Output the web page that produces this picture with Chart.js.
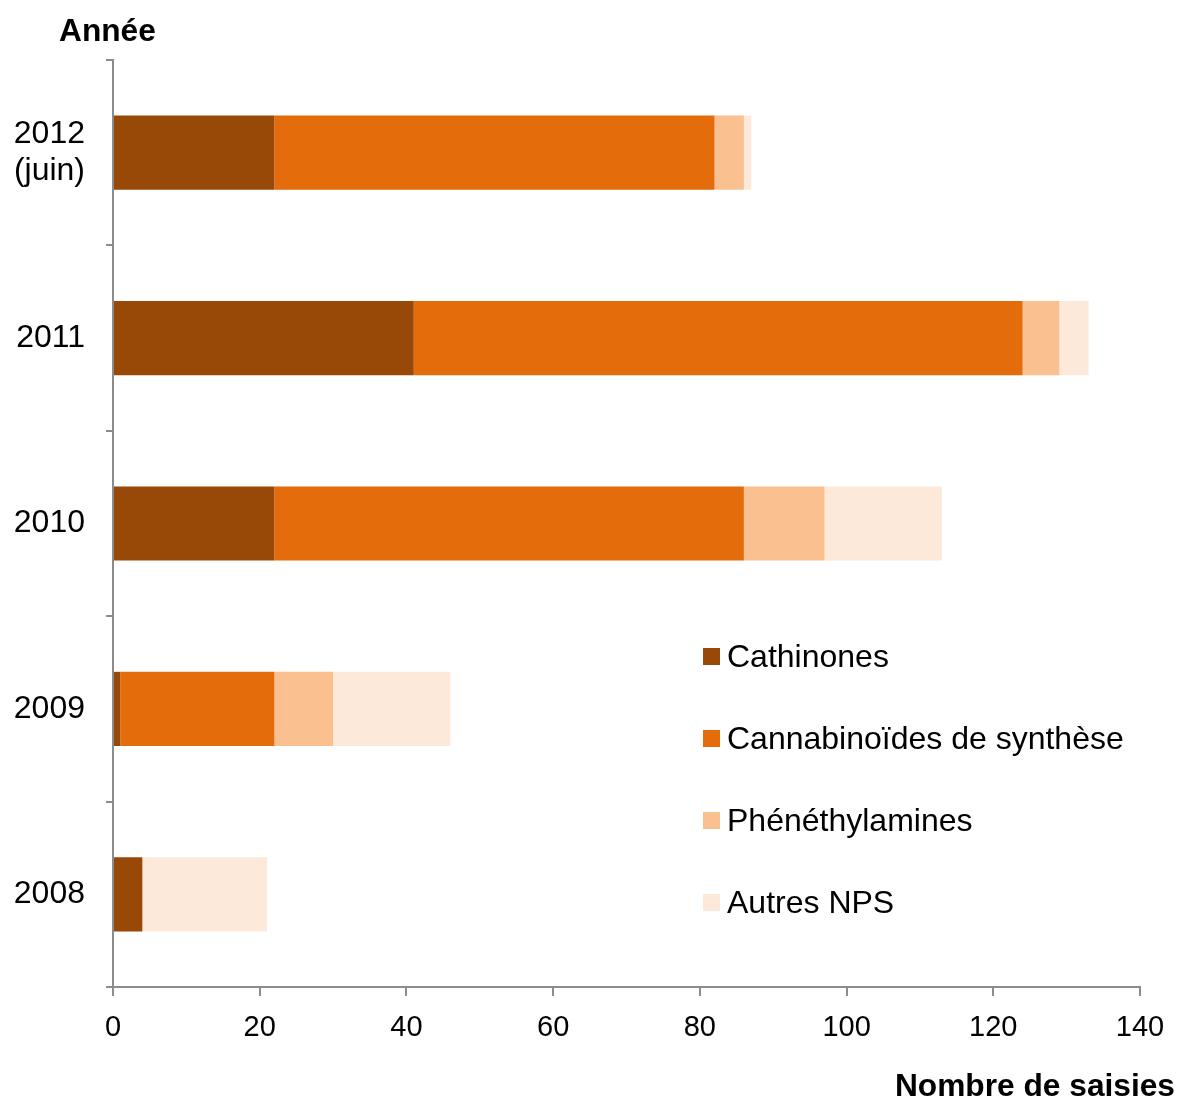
<!DOCTYPE html>
<html>
<head>
<meta charset="utf-8">
<script src="https://cdn.jsdelivr.net/npm/chart.js@4"></script>
<style>
  html, body { margin: 0; padding: 0; background: #fff; }
  #wrap { position: relative; width: 1181px; height: 1097px; font-family: "Liberation Sans", Arial, sans-serif; }
  canvas { position: absolute; left: 0; top: 0; }
  .title { position: absolute; font-weight: bold; font-size: 31.7px; color: #000; white-space: nowrap; line-height: 36px; }
  #legend { position: absolute; left: 703px; top: 636px; }
  .item { position: absolute; left: 0; height: 40px; white-space: nowrap; font-size: 32px; color: #000; }
  .sw { position: absolute; left: 0; top: 12px; width: 17px; height: 17px; }
  .lab { position: absolute; left: 24px; top: 2px; line-height: 36px; }
</style>
</head>
<body>
<div id="wrap">
  <canvas id="c" width="1181" height="1097"></canvas>
  <div class="title" style="left:59px; top:12px;">Année</div>
  <div class="title" style="right:6px; top:1067px;">Nombre de saisies</div>
  <div id="legend"></div>
</div>
<script>
const categories = [['2012', '(juin)'], '2011', '2010', '2009', '2008'];
const seriesNames = ['Cathinones', 'Cannabinoïdes de synthèse', 'Phénéthylamines', 'Autres NPS'];
const cathinones = [22, 41, 22, 1, 4];
const cannabinoides = [60, 83, 64, 21, 0];
const phenethylamines = [4, 5, 11, 8, 0];
const autres = [1, 4, 16, 16, 17];
const xTicks = [0, 20, 40, 60, 80, 100, 120, 140];
const colors = ['#984807', '#E46C0A', '#FAC090', '#FDE9D9'];

const seriesValues = [cathinones, cannabinoides, phenethylamines, autres];

const legend = document.getElementById('legend');
seriesNames.forEach((name, i) => {
  const d = document.createElement('div');
  d.className = 'item';
  d.style.top = (i * 82) + 'px';
  d.innerHTML = '<span class="sw" style="background:' + colors[i] + '"></span><span class="lab">' + name + '</span>';
  legend.appendChild(d);
});

const axisColor = '#8c8c8c';
new Chart(document.getElementById('c'), {
  type: 'bar',
  data: {
    labels: categories,
    datasets: seriesNames.map((n, i) => ({
      label: n,
      data: seriesValues[i],
      backgroundColor: colors[i],
      borderWidth: 0,
      categoryPercentage: 0.4,
      barPercentage: 1.0
    }))
  },
  options: {
    indexAxis: 'y',
    responsive: false,
    animation: false,
    devicePixelRatio: 1,
    layout: { padding: { left: 0, top: 60, right: 41, bottom: 0 } },
    plugins: { legend: { display: false }, tooltip: { enabled: false } },
    scales: {
      x: {
        stacked: true,
        min: 0, max: 140,
        afterBuildTicks: (s) => { s.ticks = xTicks.map(v => ({ value: v })); },
        afterFit: (s) => { s.height = 110; },
        border: { color: axisColor, width: 2 },
        grid: { drawOnChartArea: false, drawTicks: true, tickLength: 9, color: axisColor, lineWidth: 2 },
        ticks: { color: '#000', font: { family: 'Liberation Sans', size: 29 }, padding: 15, maxRotation: 0 }
      },
      y: {
        stacked: true,
        afterFit: (s) => { s.width = 113; },
        border: { color: axisColor, width: 2 },
        grid: { offset: true, drawOnChartArea: false, drawTicks: true, tickLength: 7, color: axisColor, lineWidth: 2 },
        ticks: { color: '#000', font: { family: 'Liberation Sans', size: 32, lineHeight: 1.13 }, padding: 21, crossAlign: 'near' }
      }
    }
  }
});
</script>
</body>
</html>
